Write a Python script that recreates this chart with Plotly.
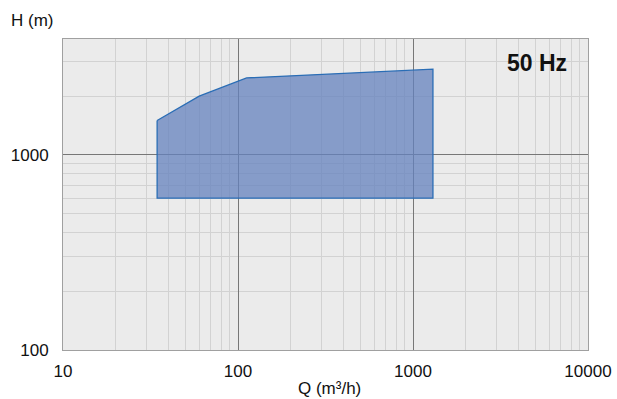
import plotly.graph_objects as go

# Operating envelope (Q in m3/h, H in m)
flow_q = [34.5, 60, 112, 1300, 1300, 34.5, 34.5]
head_h = [1500, 2000, 2480, 2750, 600, 600, 1500]

x_ticks = [10, 100, 1000, 10000]
x_tick_labels = ["10", "100", "1000", "10000"]
y_ticks = [100, 1000]
y_tick_labels = ["100", "1000"]

fig = go.Figure()
fig.add_trace(go.Scatter(
    x=flow_q, y=head_h, mode="lines", fill="toself",
    fillcolor="rgba(100,130,190,0.75)",
    line=dict(color="#2a6db5", width=1.3),
    hoverinfo="skip", showlegend=False,
))

font = "Liberation Sans, Arial, Helvetica, sans-serif"

fig.update_layout(
    width=617, height=399,
    margin=dict(l=63, r=29, t=39, b=49, autoexpand=False),
    paper_bgcolor="white", plot_bgcolor="#ebebeb",
    font=dict(family=font, size=16, color="#111"),
    xaxis=dict(
        type="log", range=[1, 4], automargin=False,
        tickvals=x_ticks, ticktext=x_tick_labels,
        showgrid=True, gridcolor="#777777", gridwidth=1,
        minor=dict(dtick="D1", showgrid=True, gridcolor="#d2d2d2", gridwidth=1, ticks=""),
        showline=True, linecolor="#a0a0a0", linewidth=1, mirror=True,
        ticks="", ticklabelstandoff=6, zeroline=False,
        tickfont=dict(size=17, color="#111"),
    ),
    yaxis=dict(
        type="log", range=[2, 3.594], automargin=False,
        tickvals=y_ticks, ticktext=y_tick_labels,
        showgrid=True, gridcolor="#777777", gridwidth=1,
        minor=dict(dtick="D1", showgrid=True, gridcolor="#d2d2d2", gridwidth=1, ticks=""),
        showline=True, linecolor="#a0a0a0", linewidth=1, mirror=True,
        ticks="", ticklabelstandoff=10, zeroline=False,
        tickfont=dict(size=17, color="#111"),
    ),
    annotations=[
        dict(text="<b>50 Hz</b>", xref="paper", yref="paper", x=0.963, y=0.9216,
             xanchor="right", yanchor="middle", showarrow=False,
             font=dict(size=23, color="#111", family=font)),
        dict(text="H (m)", xref="paper", yref="paper", x=-0.1034, y=1.0588,
             xanchor="left", yanchor="middle", showarrow=False,
             font=dict(size=17, color="#111", family=font)),
        dict(text="Q (m³/h)", xref="paper", yref="paper", x=0.508, y=-0.1237,
             xanchor="center", yanchor="middle", showarrow=False,
             font=dict(size=17, color="#111", family=font)),
    ],
)

fig.write_html(
    "out.html",
    config={"displayModeBar": False},
    post_script="document.body.style.margin='0';document.body.style.overflow='hidden';",
)
